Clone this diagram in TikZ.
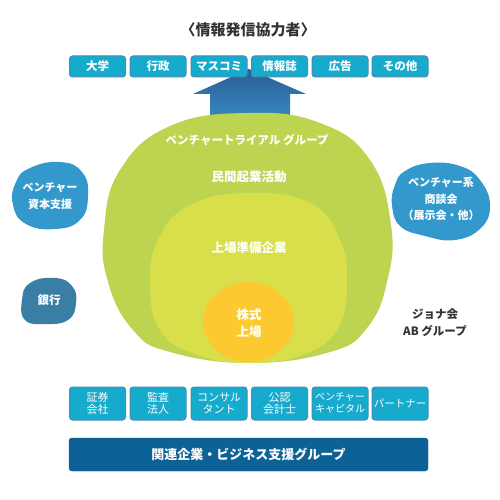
\documentclass[tikz,border=0pt]{standalone}
\usepackage{fontspec}
\setmainfont{Noto Sans CJK JP}
\definecolor{boxfill}{RGB}{22,170,205}
\definecolor{boxedge}{RGB}{70,140,180}
\definecolor{barfill}{RGB}{12,98,150}
\definecolor{blobblue}{RGB}{51,153,204}
\definecolor{bankblue}{RGB}{58,126,166}
\definecolor{green1}{RGB}{188,212,80}
\definecolor{green2}{RGB}{216,223,74}
\definecolor{orange1}{RGB}{253,201,48}
\definecolor{arrowtop}{RGB}{44,92,150}
\definecolor{arrowbot}{RGB}{60,156,210}
\definecolor{darktext}{RGB}{51,51,51}
\begin{document}
\begin{tikzpicture}[x=1pt,y=-1pt,
  topbox/.style={draw=boxedge, line width=1pt, fill=boxfill, rounded corners=3pt,
    minimum width=56pt, minimum height=21pt, inner sep=0pt, text=white,
    font=\bfseries\fontsize{11.5}{12}\selectfont},
  botbox/.style={draw=boxedge, line width=1pt, fill=boxfill, rounded corners=3pt,
    minimum width=56pt, minimum height=33pt, inner sep=0pt, text=white, align=center,
    font=\fontsize{11}{12}\selectfont},
  barbox/.style={fill=barfill, draw=barfill!80!black, rounded corners=3pt, minimum width=359pt,
    minimum height=33pt, inner sep=0pt, text=white, font=\bfseries\fontsize{13}{14}\selectfont},
  wtext/.style={text=white, align=center, inner sep=0pt, font=\bfseries\fontsize{11.5}{17}\selectfont},
  btext/.style={text=white, align=center, inner sep=0pt, font=\bfseries\fontsize{12.5}{17}\selectfont},
  dtext/.style={text=darktext, align=center, inner sep=0pt, font=\bfseries\fontsize{11.5}{17}\selectfont}
]
\useasboundingbox (0,0) rectangle (500,500);

% title
\node[text=darktext, font=\bfseries\fontsize{15}{16}\selectfont] (title) at (248,30) {〈情報発信協力者〉};

% arrow
\shade[top color=arrowtop, bottom color=arrowbot]
  (210,140) -- (210,94) -- (193,94) -- (249,69) -- (306,94) -- (290,94) -- (290,140) -- cycle;

% top boxes
\node[topbox] (t1) at (97.5,66.5) {大学};
\node[topbox] (t2) at (158,66.5) {行政};
\node[topbox] (t3) at (219,66.5) {マスコミ};
\node[topbox] (t4) at (279.5,66.5) {情報誌};
\node[topbox] (t5) at (340,66.5) {広告};
\node[topbox] (t6) at (400,66.5) {その他};

% nested circles
\fill[green1] plot[smooth cycle, tension=0.75] coordinates {
 (248,113) (320,123) (370,160) (391,225) (387,282) (367,328) (330,352) (250,363)
 (170,352) (133,330) (108,282) (104,230) (120,170) (170,126)};
\fill[green2] plot[smooth cycle, tension=0.75] coordinates {
 (249,193) (310,203) (340,240) (347,285) (338,328) (305,354) (250,363)
 (195,354) (160,330) (150,285) (158,240) (190,205)};
\fill[orange1] (248.5,322) ellipse [x radius=45.5, y radius=40];

\node[wtext] (vt) at (247,140) {ベンチャートライアル グループ};
\node[btext] (mk) at (249,177) {民間起業活動};
\node[btext] (jj) at (249,248) {上場準備企業};
\node[btext] (kj) at (249,323) {株式\\上場};

% left blobs
\fill[blobblue] plot[smooth cycle, tension=0.8] coordinates {
 (30,168) (60,162) (82,172) (88,196) (80,220) (55,229) (26,224) (13,205) (16,182)};
\node[wtext, font=\bfseries\fontsize{11}{17}\selectfont] (vc) at (50,196) {ベンチャー\\資本支援};
\fill[bankblue] plot[smooth cycle, tension=0.8] coordinates {
 (30,283) (55,278) (72,286) (76,303) (68,320) (45,324) (25,320) (22,300)};
\node[wtext] (bank) at (49,300) {銀行};

% right blob
\fill[blobblue] plot[smooth cycle, tension=0.75] coordinates {
 (405,171) (430,163) (460,166) (480,180) (490,205) (481,228) (455,240)
 (425,236) (400,226) (392,205) (395,185)};
\node[wtext, font=\bfseries\fontsize{11}{16.5}\selectfont] (vs) at (441,199) {ベンチャー系\\商談会\\（展示会・他）};

% jona
\node[dtext] (jona) at (435,323) {ジョナ会\\AB グループ};

% bottom boxes
\node[botbox] (b1) at (97.5,403.5) {証券\\会社};
\node[botbox] (b2) at (158,403.5) {監査\\法人};
\node[botbox] (b3) at (219,403.5) {コンサル\\タント};
\node[botbox] (b4) at (279.5,403.5) {公認\\会計士};
\node[botbox, font=\fontsize{10}{12}\selectfont] (b5) at (340,403.5) {ベンチャー\\キャピタル};
\node[botbox, font=\fontsize{10.5}{12}\selectfont] (b6) at (400,403.5) {パートナー};

% bar
\node[barbox] (bar) at (248.5,454.5) {関連企業・ビジネス支援グループ};
\end{tikzpicture}
\end{document}
